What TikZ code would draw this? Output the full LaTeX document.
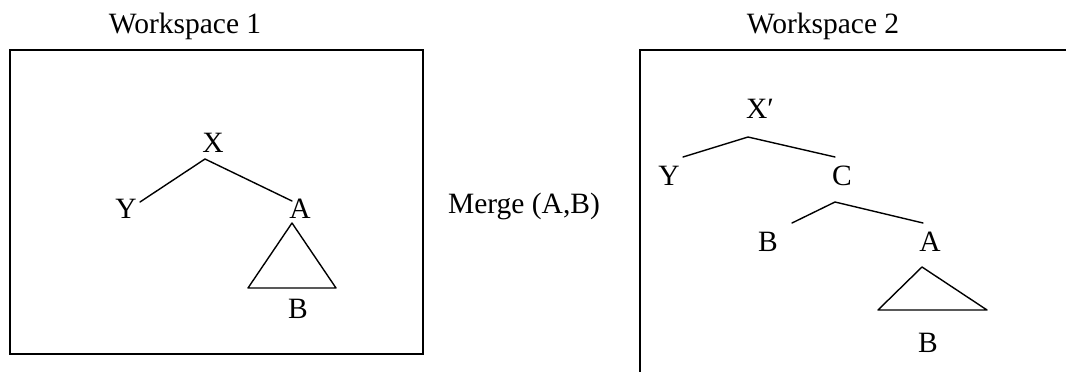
\documentclass[tikz,border=0pt]{standalone}
\usepackage{fontspec}
\setmainfont{Liberation Serif}
\begin{document}
\begin{tikzpicture}[x=1pt,y=-1pt,
  lbl/.style={anchor=base,inner sep=0pt,font=\fontsize{29.5}{32}\selectfont},
  br/.style={line width=1.4pt,line cap=round,line join=round},
  frame/.style={line width=1.5pt}]
\useasboundingbox (0,0) rectangle (1066,372);
% Workspace 1
\node[lbl] (t1) at (185,33) {Workspace 1};
\node[draw,frame,minimum width=413pt,minimum height=304pt,inner sep=0pt] (w1) at (216.5,202) {};
\node[lbl] (x1) at (213,152) {X};
\node[lbl] (y1) at (126,218) {Y};
\node[lbl] (a1) at (300,218) {A};
\node[lbl] (b1) at (298,318) {B};
\coordinate (x1r) at (205,159);
\coordinate (y1e) at (140,202);
\coordinate (a1e) at (292,201);
\coordinate (tr1a) at (292,223);
\coordinate (tr1l) at (248,288);
\coordinate (tr1r) at (336,288);
\draw[br] (y1e) -- (x1r) -- (a1e);
\draw[br] (tr1a) -- (tr1l) -- (tr1r) -- cycle;
% Merge
\node[lbl] (m) at (524,213) {Merge (A,B)};
% Workspace 2
\node[lbl] (t2) at (823,33) {Workspace 2};
\coordinate (w2tr) at (1066,50);
\coordinate (w2tl) at (640,50);
\coordinate (w2bl) at (640,372);
\draw[frame] (w2tr) -- (w2tl) -- (w2bl);
\node[lbl] (x2) at (760,118) {X′};
\node[lbl] (y2) at (669,185) {Y};
\node[lbl] (c2) at (842,185) {C};
\node[lbl] (b2) at (768,251) {B};
\node[lbl] (a2) at (930,251) {A};
\node[lbl] (b3) at (928,352) {B};
\coordinate (x2r) at (748,137);
\coordinate (y2e) at (683,157);
\coordinate (c2e) at (835,157);
\coordinate (c2r) at (835,202);
\coordinate (b2e) at (792,223);
\coordinate (a2e) at (923,223);
\coordinate (tr2a) at (922,267);
\coordinate (tr2l) at (878,310);
\coordinate (tr2r) at (987,310);
\draw[br] (y2e) -- (x2r) -- (c2e);
\draw[br] (b2e) -- (c2r) -- (a2e);
\draw[br] (tr2a) -- (tr2l) -- (tr2r) -- cycle;
\end{tikzpicture}
\end{document}
